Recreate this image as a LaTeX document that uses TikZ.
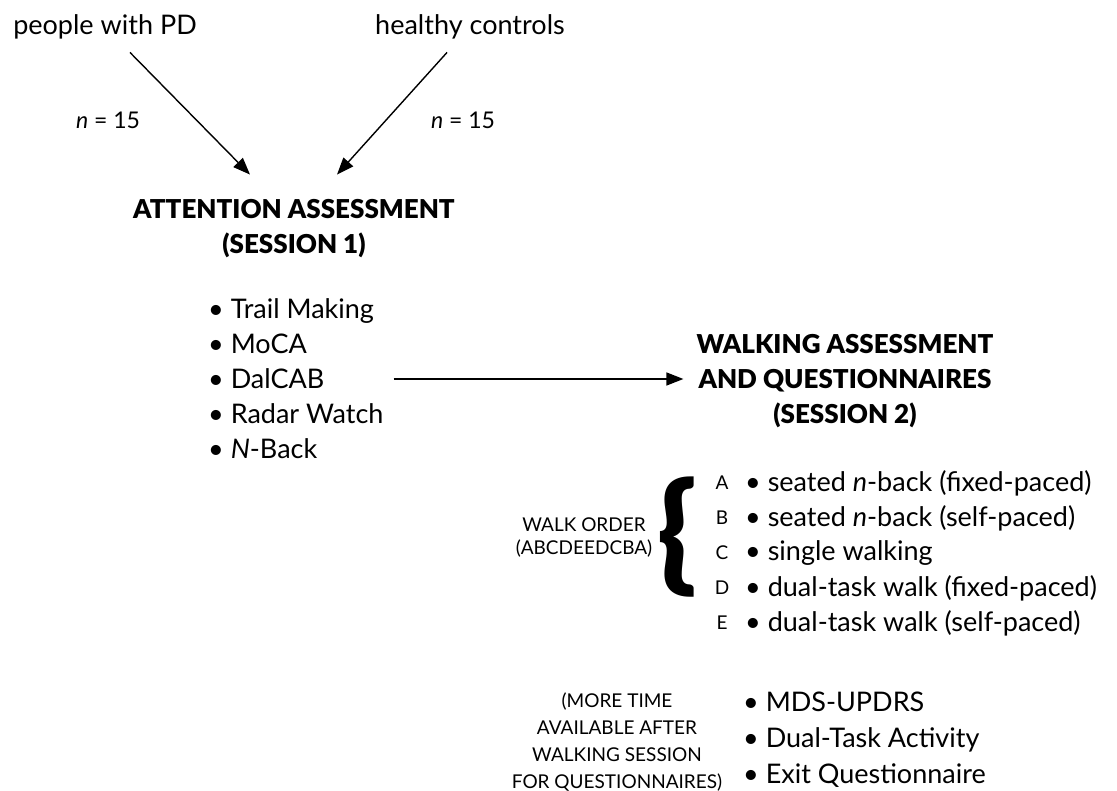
\documentclass[tikz,border=0pt]{standalone}
\usepackage{fontspec}
\setmainfont{Lato}[BoldFont={Lato Black}]
\usetikzlibrary{arrows.meta}
\tikzset{
  lbl/.style={inner sep=0pt, font=\fontsize{27}{35}\selectfont},
  head/.style={inner sep=0pt, align=center, font=\bfseries\fontsize{26}{35}\selectfont},
  note/.style={inner sep=0pt, align=center, font=\fontsize{19}{23}\selectfont},
  arr/.style={-{Triangle[length=17pt,width=13pt]}, line width=1.4pt},
}
\begin{document}
\begin{tikzpicture}[x=1pt, y=-1pt]
    \useasboundingbox (0,0) rectangle (1117,791);
    % the two groups
    \node[lbl] (pd) at (105,27) {people with PD};
    \node[lbl] (hc) at (470,27) {healthy controls};
    \node[lbl, font=\fontsize{23}{26}\selectfont] (npd) at (108,120) {\textit{n} = 15};
    \node[lbl, font=\fontsize{23}{26}\selectfont] (nhc) at (463,120) {\textit{n} = 15};
    % session 1
    \node[head] (s1) at (294,229) {ATTENTION ASSESSMENT\\(SESSION 1)};
    \node[lbl, align=left, anchor=west] (tests) at (208,379) {• Trail Making\\• MoCA\\• DalCAB\\• Radar Watch\\• \textit{N}-Back};
    % session 2
    \node[head] (s2) at (845,381) {WALKING ASSESSMENT\\AND QUESTIONNAIRES\\(SESSION 2)};
    \foreach \l/\t [count=\i] in {A/seated \textit{n}-back (fixed-paced), B/seated \textit{n}-back (self-paced), C/single walking, D/dual-task walk (fixed-paced), E/dual-task walk (self-paced)} {
        \node[note] (l\l) at (722,448+35*\i) {\l};
        \node[lbl, anchor=west] (w\l) at (745,448+35*\i) {• \t};
    }
    \node[inner sep=0pt, font=\bfseries\fontsize{128}{128}\selectfont] (brace) at (677,537) {\{};
    \node[note] (order) at (584,538) {WALK ORDER\\(ABCDEEDCBA)};
    \node[note, font=\fontsize{19}{27}\selectfont] (more) at (617,742) {(MORE TIME\\AVAILABLE AFTER\\WALKING SESSION\\FOR QUESTIONNAIRES)};
    \node[lbl, align=left, anchor=west, font=\fontsize{27}{36}\selectfont] (quest) at (743,740) {• MDS-UPDRS\\• Dual-Task Activity\\• Exit Questionnaire};
    % arrows
    \draw[arr] ([xshift=25pt,yshift=-13pt]pd.south) -- ([xshift=-44pt,yshift=25pt]s1.north);
    \draw[arr] ([xshift=-23pt,yshift=-13pt]hc.south) -- ([xshift=43pt,yshift=25pt]s1.north);
    \draw[arr, shorten <=10pt, shorten >=13pt] (tests.east) -- (tests.east -| s2.west);
\end{tikzpicture}
\end{document}
